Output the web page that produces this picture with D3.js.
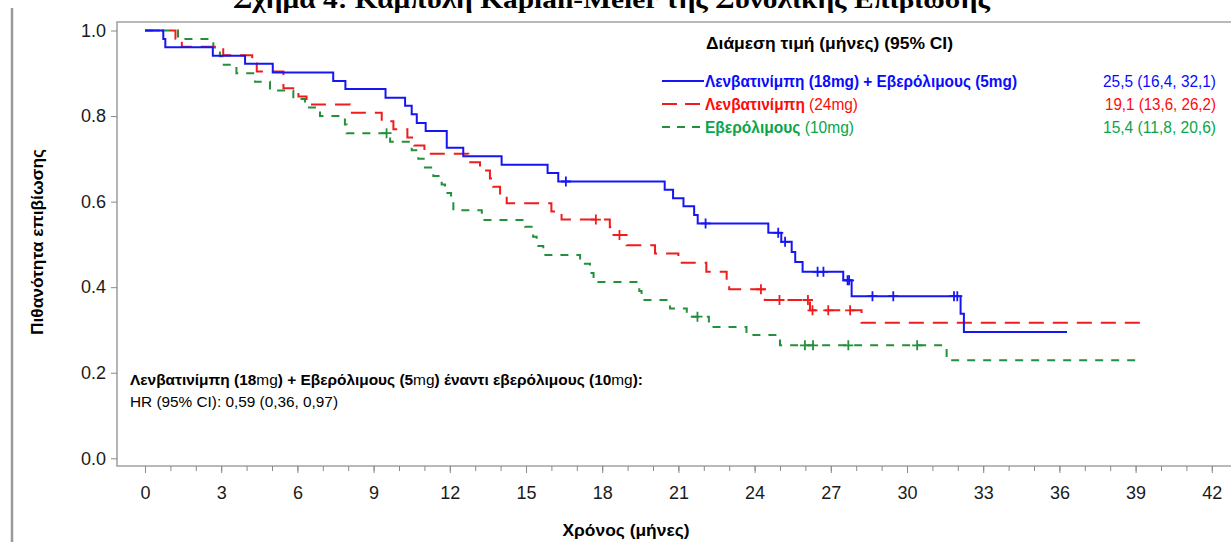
<!DOCTYPE html>
<html>
<head>
<meta charset="utf-8">
<script src="https://cdn.jsdelivr.net/npm/d3@7"></script>
<style>
  body { margin: 0; background: #fff; }
  svg { display: block; }
  .tick text { font-family: "Liberation Sans", Arial, sans-serif; fill: #1a1a1a; }
</style>
</head>
<body>
<svg id="chart" width="1231" height="542"></svg>
<script>
// Kaplan-Meier steps: time (months) of each drop and survival after it
const blueTimes = [0, 0.72, 0.8, 2.67, 3.94, 5.03, 7.41, 7.89, 9.47, 10.24, 10.5, 10.7, 11.05, 11.88, 12.53, 14.04, 15.85, 16.27, 20.46, 20.79, 21.2, 21.62, 21.76, 24.54, 25.05, 25.46, 25.6, 25.89, 27.49, 27.82, 32.11, 32.24];
const blueSurv = [1, 0.98, 0.961, 0.941, 0.922, 0.902, 0.882, 0.863, 0.843, 0.824, 0.804, 0.784, 0.765, 0.726, 0.706, 0.686, 0.667, 0.647, 0.628, 0.608, 0.589, 0.569, 0.549, 0.527, 0.506, 0.482, 0.459, 0.436, 0.416, 0.379, 0.338, 0.295];
const blueCensor = [16.57, 22.07, 24.93, 25.2, 26.48, 26.71, 27.66, 27.72, 28.64, 29.46, 31.85, 31.98];
const blueEnd = 36.3;

const redTimes = [0, 1.2, 1.45, 3.08, 4.22, 4.4, 5.45, 6.04, 6.36, 8.07, 9.32, 9.78, 10.33, 10.6, 11.0, 12.73, 13.19, 13.58, 13.7, 13.98, 14.24, 16.0, 16.4, 18.3, 18.4, 18.96, 20.08, 21.0, 22.1, 22.9, 23.0, 24.4, 26.18, 28.21];
const redSurv = [1, 0.981, 0.962, 0.942, 0.923, 0.904, 0.865, 0.846, 0.827, 0.808, 0.788, 0.769, 0.75, 0.731, 0.712, 0.692, 0.673, 0.654, 0.635, 0.615, 0.596, 0.577, 0.558, 0.54, 0.522, 0.498, 0.479, 0.457, 0.436, 0.416, 0.395, 0.37, 0.346, 0.317];
const redCensor = [17.75, 18.68, 24.25, 24.98, 26.1, 26.28, 26.9, 27.76];
const redEnd = 39.2;

const greenTimes = [0, 1.3, 2.69, 2.95, 3.1, 3.6, 4.33, 4.92, 5.84, 6.3, 6.89, 7.87, 7.94, 9.65, 10.5, 10.76, 11.02, 11.35, 11.68, 11.81, 12.05, 12.14, 13.26, 14.96, 15.28, 15.42, 15.68, 17.13, 17.52, 17.66, 19.46, 19.55, 20.67, 21.33, 22.2, 23.68, 25.0, 31.56];
const greenSurv = [1, 0.98, 0.96, 0.94, 0.92, 0.9, 0.88, 0.86, 0.84, 0.82, 0.8, 0.78, 0.76, 0.74, 0.72, 0.7, 0.68, 0.66, 0.64, 0.62, 0.6, 0.58, 0.557, 0.541, 0.518, 0.496, 0.475, 0.455, 0.433, 0.412, 0.391, 0.37, 0.35, 0.331, 0.307, 0.288, 0.264, 0.229];
const greenCensor = [9.51, 21.75, 25.98, 26.3, 27.69, 30.4];
const greenEnd = 39.1;

const seriesNames = ["Λενβατινίμπη (18mg) + Εβερόλιμους (5mg)", "Λενβατινίμπη (24mg)", "Εβερόλιμους (10mg)"];
const medianLabels = ["25,5 (16,4, 32,1)", "19,1 (13,6, 26,2)", "15,4 (11,8, 20,6)"];
const xTicks = [0, 3, 6, 9, 12, 15, 18, 21, 24, 27, 30, 33, 36, 39, 42];
const yTicks = [0, 0.2, 0.4, 0.6, 0.8, 1.0];

const series = [
  { times: blueTimes, surv: blueSurv, censor: blueCensor, end: blueEnd, color: "#1616f5", text: "#0a0aff", dash: null },
  { times: redTimes, surv: redSurv, censor: redCensor, end: redEnd, color: "#f01c1c", text: "#ff0a0a", dash: "15,9" },
  { times: greenTimes, surv: greenSurv, censor: greenCensor, end: greenEnd, color: "#23903a", text: "#08a54a", dash: "8,8" }
];

const svg = d3.select("#chart");
const narrow = '"Liberation Sans Narrow", "Liberation Sans", Arial, sans-serif';

let x = d3.scaleLinear().domain([0, 42]).range([145, 1211.8]);
let y = d3.scaleLinear().domain([0, 1]).range([458.3, 30.5]);

// page border on the left
svg.append("line").attr("x1", 12).attr("x2", 12).attr("y1", 8).attr("y2", 542)
  .attr("stroke", "#9a9a9a").attr("stroke-width", 2.5);

// title, cut off by the top of the picture
svg.append("text")
  .attr("x", 233).attr("y", 8)
  .attr("font-family", '"Liberation Serif", "Times New Roman", serif')
  .attr("font-weight", "bold").attr("font-size", 26)
  .attr("textLength", 757).attr("lengthAdjust", "spacingAndGlyphs")
  .text("Σχήμα 4: Καμπύλη Kaplan-Meier της Συνολικής Επιβίωσης");

// frame
svg.append("path")
  .attr("d", "M1240,22 H117 V466 H1240")
  .attr("fill", "none").attr("stroke", "#a3a3a3").attr("stroke-width", 1.6);

// axes
let xMinor = d3.axisBottom(x).tickValues(d3.range(0, 43, 1)).tickSize(5).tickFormat("");
svg.append("g").attr("transform", "translate(0,466)").call(xMinor)
  .call(g => g.select(".domain").remove())
  .call(g => g.selectAll("line").attr("stroke", "#8a8a8a"));

let xAxis = d3.axisBottom(x).tickValues(xTicks).tickSize(7).tickPadding(13);
svg.append("g").attr("transform", "translate(0,466)").call(xAxis)
  .call(g => g.select(".domain").remove())
  .call(g => g.selectAll("line").attr("stroke", "#8a8a8a"))
  .call(g => g.selectAll("text").attr("font-size", 18));

let yAxis = d3.axisLeft(y).tickValues(yTicks).tickFormat(d3.format(".1f")).tickSize(6).tickPadding(5);
svg.append("g").attr("transform", "translate(117,0)").call(yAxis)
  .call(g => g.select(".domain").remove())
  .call(g => g.selectAll("line").attr("stroke", "#8a8a8a"))
  .call(g => g.selectAll("text").attr("font-size", 18));

// axis labels
svg.append("text")
  .attr("x", 626).attr("y", 536)
  .attr("text-anchor", "middle")
  .attr("font-family", narrow).attr("font-weight", "bold").attr("font-size", 16)
  .attr("textLength", 127).attr("lengthAdjust", "spacingAndGlyphs")
  .text("Χρόνος (μήνες)");

svg.append("text")
  .attr("transform", "translate(43,242) rotate(-90)")
  .attr("text-anchor", "middle")
  .attr("font-family", narrow).attr("font-weight", "bold").attr("font-size", 16)
  .attr("textLength", 186).attr("lengthAdjust", "spacingAndGlyphs")
  .text("Πιθανότητα επιβίωσης");

// survival at a given time from the step table
function survAt(s, t) {
  let v = s.surv[0];
  s.times.forEach((tt, i) => { if (tt <= t) v = s.surv[i]; });
  return v;
}

let stepLine = d3.line()
  .x(d => x(d[0]))
  .y(d => y(d[1]))
  .curve(d3.curveStepAfter);

// draw green first, blue on top
series.slice().reverse().forEach(s => {
  let pts = s.times.map((t, i) => [t, s.surv[i]]);
  pts.push([s.end, s.surv[s.surv.length - 1]]);
  let p = svg.append("path")
    .datum(pts)
    .attr("d", stepLine)
    .attr("fill", "none")
    .attr("stroke", s.color)
    .attr("stroke-width", 2);
  if (s.dash) p.attr("stroke-dasharray", s.dash);

  svg.append("g").selectAll("path")
    .data(s.censor)
    .join("path")
    .attr("d", c => {
      let cx = x(c), cy = y(survAt(s, c));
      return `M${cx - 5},${cy}H${cx + 5}M${cx},${cy - 5}V${cy + 5}`;
    })
    .attr("stroke", s.color)
    .attr("stroke-width", 1.8);
});

// legend
svg.append("text")
  .attr("x", 706).attr("y", 49)
  .attr("font-family", narrow).attr("font-weight", "bold").attr("font-size", 16)
  .attr("textLength", 247).attr("lengthAdjust", "spacingAndGlyphs")
  .text("Διάμεση τιμή (μήνες) (95% CI)");

const legendRows = [
  { y: 81, parts: [["Λενβατινίμπη (18mg) + Εβερόλιμους (5mg)", "bold"]], width: 312 },
  { y: 104, parts: [["Λενβατινίμπη", "bold"], [" (24mg)", "normal"]], width: 153 },
  { y: 127, parts: [["Εβερόλιμους", "bold"], [" (10mg)", "normal"]], width: 149 }
];
const valueWidths = [113, 111, 113];

legendRows.forEach((row, i) => {
  let s = series[i];
  let ln = svg.append("line")
    .attr("x1", 662).attr("x2", 704)
    .attr("y1", row.y).attr("y2", row.y)
    .attr("stroke", s.color).attr("stroke-width", 2);
  if (s.dash) ln.attr("stroke-dasharray", i === 1 ? "15,8" : "8,7");

  let t = svg.append("text")
    .attr("x", 705).attr("y", row.y + 5.5)
    .attr("font-family", narrow).attr("font-size", 16)
    .attr("fill", s.text)
    .attr("textLength", row.width).attr("lengthAdjust", "spacingAndGlyphs");
  row.parts.forEach(p => t.append("tspan").attr("font-weight", p[1]).text(p[0]));

  svg.append("text")
    .attr("x", 1216).attr("y", row.y + 5.5)
    .attr("text-anchor", "end")
    .attr("font-family", narrow).attr("font-size", 16)
    .attr("fill", s.text)
    .attr("textLength", valueWidths[i]).attr("lengthAdjust", "spacingAndGlyphs")
    .text(medianLabels[i]);
});

// hazard ratio note
const noteParts = [
  ["Λενβατινίμπη (18", "bold"], ["mg", "normal"], [") + Εβερόλιμους (5", "bold"], ["mg", "normal"],
  [") έναντι εβερόλιμους (10", "bold"], ["mg", "normal"], ["):", "bold"]
];
let note = svg.append("text")
  .attr("x", 130).attr("y", 384.5)
  .attr("font-family", narrow).attr("font-size", 15)
  .attr("textLength", 513).attr("lengthAdjust", "spacingAndGlyphs");
noteParts.forEach(p => note.append("tspan").attr("font-weight", p[1]).text(p[0]));

svg.append("text")
  .attr("x", 130).attr("y", 406.5)
  .attr("font-family", narrow).attr("font-size", 15)
  .attr("textLength", 208).attr("lengthAdjust", "spacingAndGlyphs")
  .text("HR (95% CI): 0,59 (0,36, 0,97)");
</script>
</body>
</html>
